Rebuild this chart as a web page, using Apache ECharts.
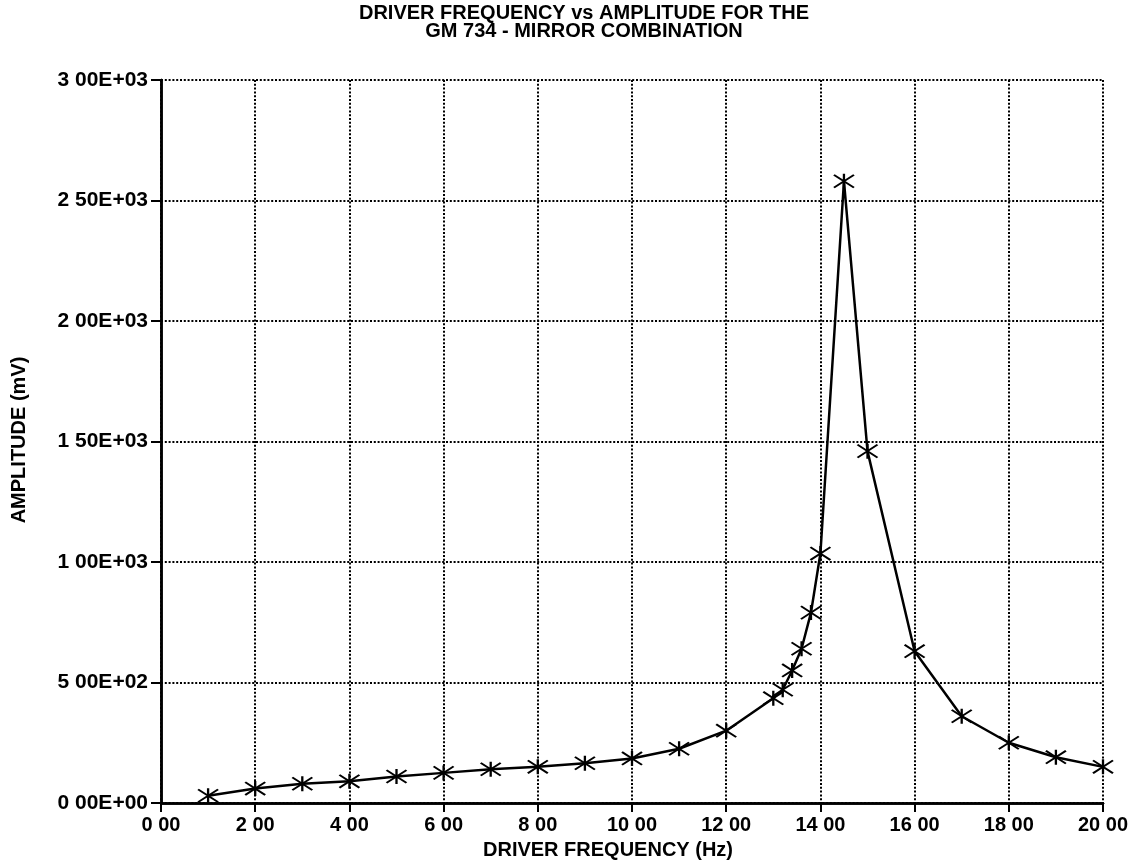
<!DOCTYPE html>
<html>
<head>
<meta charset="utf-8">
<script src="https://cdn.jsdelivr.net/npm/echarts@6/dist/echarts.min.js"></script>
<style>
  html, body { margin: 0; padding: 0; background: #fff; }
  #chart { width: 1136px; height: 866px; }
</style>
</head>
<body>
<div id="chart"></div>
<script>
// Driver frequency (Hz) and measured amplitude (mV)
const frequency = [1, 2, 3, 4, 5, 6, 7, 8, 9, 10, 11, 12, 13, 13.2, 13.4, 13.6, 13.8, 14, 14.5, 15, 16, 17, 18, 19, 20];
const amplitude = [30, 60, 80, 90, 110, 125, 140, 150, 165, 185, 225, 300, 435, 470, 550, 640, 790, 1035, 2580, 1460, 630, 360, 250, 190, 150];

// Tick labels as printed on the plot
const xTickValues = [0, 2, 4, 6, 8, 10, 12, 14, 16, 18, 20];
const xTickLabels = ['0 00', '2 00', '4 00', '6 00', '8 00', '10 00', '12 00', '14 00', '16 00', '18 00', '20 00'];
const yTickValues = [0, 500, 1000, 1500, 2000, 2500, 3000];
const yTickLabels = ['0 00E+00', '5 00E+02', '1 00E+03', '1 50E+03', '2 00E+03', '2 50E+03', '3 00E+03'];

const titleLines = ['DRIVER FREQUENCY vs AMPLITUDE FOR THE', 'GM 734 - MIRROR COMBINATION'];
const xAxisTitle = 'DRIVER FREQUENCY (Hz)';
const yAxisTitle = 'AMPLITUDE (mV)';

const FONT = '"Liberation Sans", Arial, Helvetica, sans-serif';
const INK = '#000';

const chart = echarts.init(document.getElementById('chart'), null, { renderer: 'canvas' });

const dotted = { color: INK, width: 2, type: [2, 1.8] };
const labelStyle = { color: INK, fontFamily: FONT, fontWeight: 'bold' };

// six-armed asterisk marker: vertical stroke plus two shallow diagonals
const asterisk = 'path://M0,-7L0,7M-10,-6L10,6M-10,6L10,-6';

chart.setOption({
  backgroundColor: '#fff',
  animation: false,
  grid: { left: 161, right: 33, top: 80, bottom: 63 },
  xAxis: [{
    type: 'value', min: 0, max: 20, interval: 2,
    axisLine: { show: true, onZero: false, lineStyle: { color: INK, width: 2.5 } },
    axisTick: { show: true, inside: false, length: 9, lineStyle: { color: INK, width: 2 } },
    axisLabel: Object.assign({
      margin: 12, fontSize: 20,
      formatter: v => xTickLabels[xTickValues.indexOf(v)]
    }, labelStyle),
    splitLine: { show: true, lineStyle: dotted }
  }, {
    type: 'value', position: 'top', min: 0, max: 20,
    axisLine: { show: true, lineStyle: { color: INK, width: 2.5 } },
    axisTick: { show: false }, axisLabel: { show: false }, splitLine: { show: false }
  }],
  yAxis: [{
    type: 'value', min: 0, max: 3000, interval: 500,
    axisLine: { show: true, onZero: false, lineStyle: { color: INK, width: 2.5 } },
    axisTick: { show: true, inside: false, length: 10, lineStyle: { color: INK, width: 2 } },
    axisLabel: Object.assign({
      margin: 13, fontSize: 21,
      formatter: v => yTickLabels[yTickValues.indexOf(v)]
    }, labelStyle),
    splitLine: { show: true, lineStyle: dotted }
  }, {
    type: 'value', position: 'right', min: 0, max: 3000,
    axisLine: { show: true, lineStyle: { color: INK, width: 2.5 } },
    axisTick: { show: false }, axisLabel: { show: false }, splitLine: { show: false }
  }],
  series: [{
    type: 'line',
    data: frequency.map((f, i) => [f, amplitude[i]]),
    symbol: asterisk,
    symbolSize: [20, 15],
    showAllSymbol: true,
    lineStyle: { color: INK, width: 2.5 },
    itemStyle: { color: INK, borderColor: INK, borderWidth: 2 },
    z: 5
  }],
  graphic: [
    {
      type: 'text', x: 584, y: 4, z: 10,
      style: {
        text: titleLines.join('\n'), textAlign: 'center', textVerticalAlign: 'top',
        fill: INK, font: 'bold 20px ' + FONT, lineHeight: 18
      }
    },
    {
      type: 'text', x: 608, y: 850, z: 10,
      style: {
        text: xAxisTitle, textAlign: 'center', textVerticalAlign: 'middle',
        fill: INK, font: 'bold 20px ' + FONT
      }
    },
    {
      type: 'text', x: 19, y: 440, rotation: Math.PI / 2, z: 10,
      style: {
        text: yAxisTitle, textAlign: 'center', textVerticalAlign: 'middle',
        fill: INK, font: 'bold 20px ' + FONT
      }
    }
  ]
});
</script>
</body>
</html>
